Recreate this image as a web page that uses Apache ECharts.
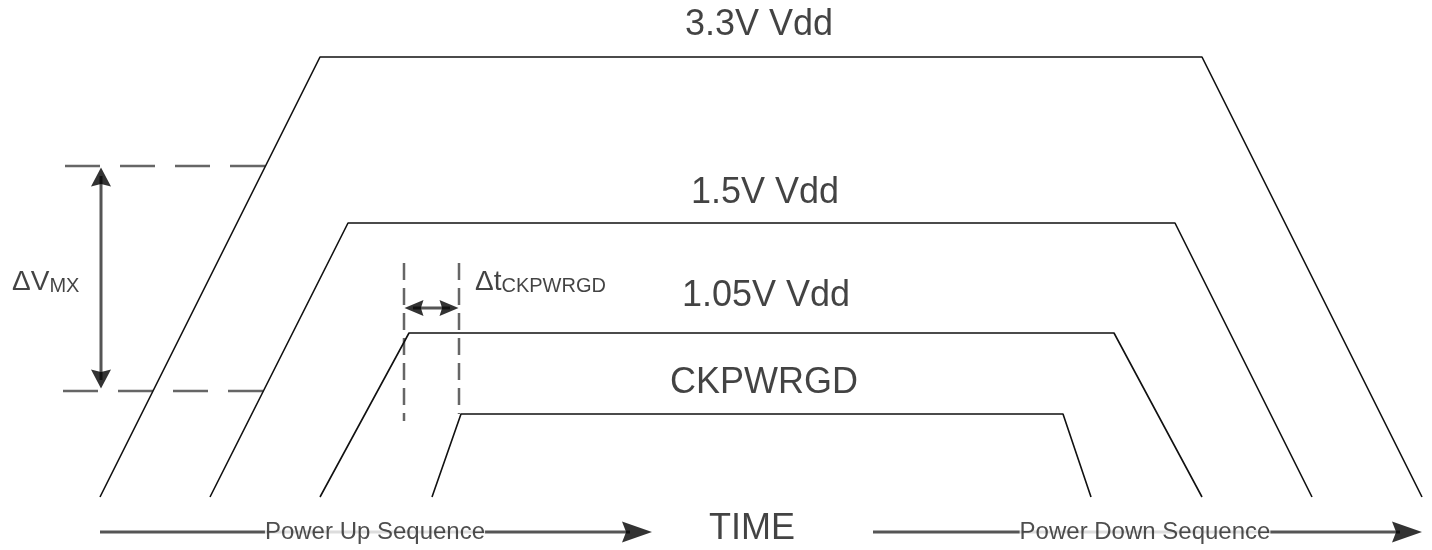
<!DOCTYPE html>
<html>
<head>
<meta charset="utf-8">
<script src="https://cdn.jsdelivr.net/npm/echarts@6/dist/echarts.min.js"></script>
<style>
  html, body { margin: 0; padding: 0; background: #fff; }
  #chart { width: 1432px; height: 550px; }
</style>
</head>
<body>
<div id="chart"></div>
<script>
// Diagram coordinates: time (x) and level (y, measured downward from the top)
const vdd33   = [[100, 497], [320, 57],  [1202, 57],  [1422, 497]];
const vdd15   = [[210, 497], [348, 223], [1175, 223], [1312, 497]];
const vdd105  = [[320, 497], [409, 333], [1114, 333], [1202, 497]];
const ckpwrgd = [[432, 497], [461, 414], [1063, 414], [1091, 497]];

const dvTopRef    = [[65, 166], [267, 166]];
const dvBottomRef = [[63, 391], [263, 391]];
const dtLeftRef   = [[404, 263], [404, 421]];
const dtRightRef  = [[459, 263], [459, 414]];

const dvShaft   = [[101, 176], [101, 380]];
const dtShaft   = [[413, 308], [450, 308]];
const upShaft   = [[100, 532], [630, 532]];
const downShaft = [[873, 532], [1400, 532]];

// arrowheads: [x, y, rotation, width, length]
const arrowHeads = [
  [101, 177, 0, 20, 19],
  [101, 379, 180, 20, 19],
  [414, 308, 90, 16, 19],
  [449, 308, -90, 16, 19],
  [637, 532, -90, 21, 30],
  [1407, 532, -90, 21, 30]
];

const signalLabels = [
  { name: '3.3V Vdd',  value: [759, 25] },
  { name: '1.5V Vdd',  value: [765, 193] },
  { name: '1.05V Vdd', value: [766, 296] },
  { name: 'CKPWRGD',   value: [764, 383] },
  { name: 'TIME',      value: [752, 529] }
];
const seqLabels = [
  { name: 'Power Up Sequence',   value: [375, 532] },
  { name: 'Power Down Sequence', value: [1145, 532] }
];
const dvLabel = [{ name: 'dv', value: [12, 281] }];
const dtLabel = [{ name: 'dt', value: [475, 281] }];

const FONT = '"Liberation Sans", Arial, sans-serif';
const INK = '#141414';

function sigLine(data) {
  return { type: 'line', data: data, symbol: 'none', silent: true, z: 3,
    lineStyle: { color: '#111', width: 1.6 } };
}
function dashLine(data, pattern) {
  return { type: 'line', data: data, symbol: 'none', silent: true, z: 2,
    lineStyle: { color: '#666', width: 2.5, type: pattern } };
}
function shaft(data) {
  return { type: 'line', data: data, symbol: 'none', silent: true, z: 2,
    lineStyle: { color: '#555', width: 3 } };
}

const chart = echarts.init(document.getElementById('chart'), null, { renderer: 'canvas' });
chart.setOption({
  animation: false,
  backgroundColor: '#fff',
  grid: { left: 0, right: 0, top: 0, bottom: 0 },
  xAxis: { type: 'value', min: 0, max: 1432, show: false },
  yAxis: { type: 'value', min: 0, max: 550, inverse: true, show: false },
  series: [
    sigLine(vdd33), sigLine(vdd15), sigLine(vdd105), sigLine(ckpwrgd),
    dashLine(dvTopRef, [35, 20]), dashLine(dvBottomRef, [35, 20]),
    dashLine(dtLeftRef, [17, 8]), dashLine(dtRightRef, [17, 8]),
    shaft(dvShaft), shaft(dtShaft), shaft(upShaft), shaft(downShaft),
    {
      type: 'scatter', silent: true, z: 4,
      data: arrowHeads.map(a => ({ value: [a[0], a[1]], symbolRotate: a[2], symbolSize: [a[3], a[4]] })),
      symbol: 'path://M10,0 L20,22 L10,19 L0,22 Z',
      symbolKeepAspect: false,
      itemStyle: { color: '#000' }
    },
    {
      type: 'scatter', silent: true, z: 5, symbolSize: 0, data: signalLabels,
      label: { show: true, position: 'inside', formatter: '{b}', color: INK,
        fontFamily: FONT, fontSize: 36, align: 'center', verticalAlign: 'middle' }
    },
    {
      type: 'scatter', silent: true, z: 6, symbolSize: 0, data: seqLabels,
      label: { show: true, position: 'inside', formatter: '{b}', color: '#222',
        fontFamily: FONT, fontSize: 24, align: 'center', verticalAlign: 'middle',
        backgroundColor: '#fff', padding: [2, 0, 2, 0] }
    },
    {
      type: 'scatter', silent: true, z: 5, symbolSize: 0, data: dvLabel,
      label: { show: true, position: 'inside', align: 'left', verticalAlign: 'middle',
        formatter: '{m|ΔV}{s|MX}',
        rich: {
          m: { fontFamily: FONT, fontSize: 28, color: INK, lineHeight: 30, verticalAlign: 'bottom' },
          s: { fontFamily: FONT, fontSize: 20, color: INK, lineHeight: 14, verticalAlign: 'bottom' }
        } }
    },
    {
      type: 'scatter', silent: true, z: 5, symbolSize: 0, data: dtLabel,
      label: { show: true, position: 'inside', align: 'left', verticalAlign: 'middle',
        formatter: '{m|Δt}{s|CKPWRGD}',
        rich: {
          m: { fontFamily: FONT, fontSize: 28, color: INK, lineHeight: 30, verticalAlign: 'bottom' },
          s: { fontFamily: FONT, fontSize: 20, color: INK, lineHeight: 16, verticalAlign: 'bottom' }
        } }
    }
  ]
});
</script>
</body>
</html>
